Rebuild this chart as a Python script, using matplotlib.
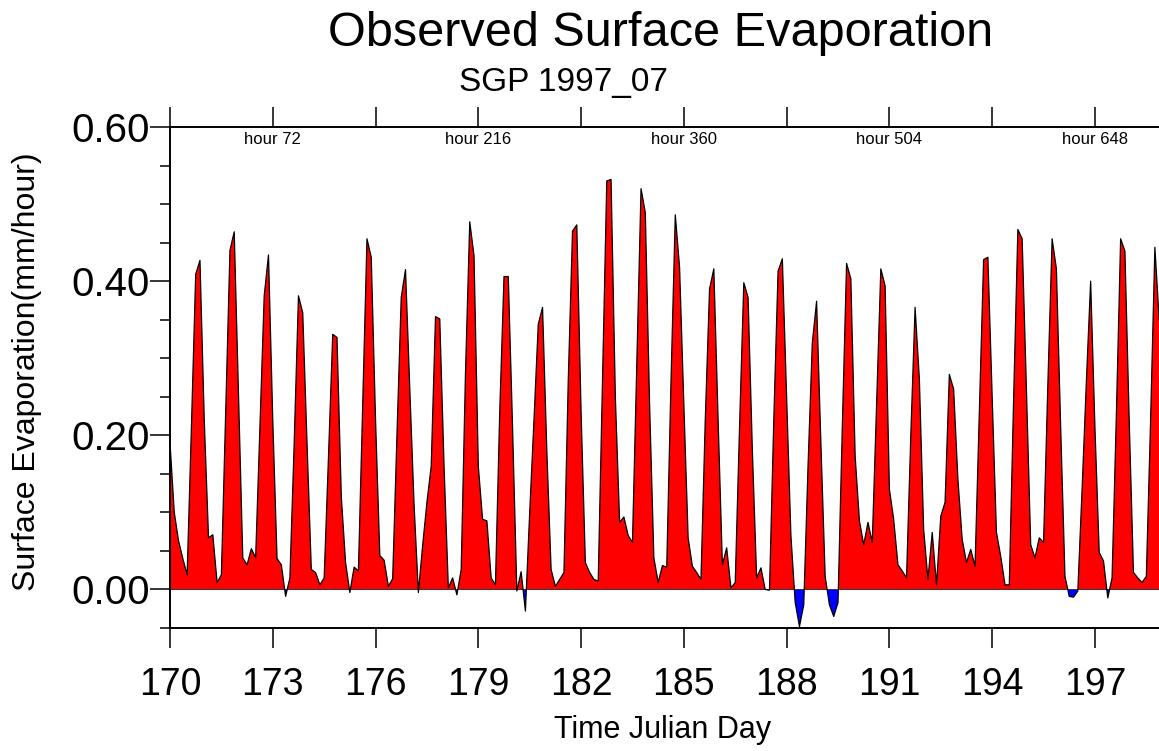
import matplotlib
matplotlib.use("Agg")
import matplotlib.pyplot as plt
from matplotlib.ticker import MultipleLocator
import numpy as np

plt.rcParams['font.family'] = ['Liberation Sans', 'DejaVu Sans']

# 3-hourly surface evaporation (mm/hour), starting julian day 170 00Z
start_day = 170
step_days = 0.125
evap = [
    0.19, 0.10, 0.063, 0.04, 0.019, 0.21, 0.409, 0.427,       # 170
    0.22, 0.067, 0.071, 0.009, 0.019, 0.23, 0.44, 0.464,      # 171
    0.25, 0.041, 0.032, 0.053, 0.041, 0.21, 0.381, 0.434,     # 172
    0.22, 0.04, 0.032, -0.009, 0.015, 0.19, 0.381, 0.359,     # 173
    0.19, 0.026, 0.022, 0.006, 0.015, 0.17, 0.331, 0.327,     # 174
    0.121, 0.035, -0.004, 0.029, 0.024, 0.24, 0.455, 0.431,   # 175
    0.22, 0.044, 0.038, 0.004, 0.014, 0.2, 0.379, 0.415,      # 176
    0.26, 0.11, -0.004, 0.057, 0.113, 0.16, 0.354, 0.351,     # 177
    0.16, 0.002, 0.015, -0.007, 0.026, 0.28, 0.477, 0.433,    # 178
    0.16, 0.091, 0.089, 0.015, 0.006, 0.23, 0.406, 0.406,     # 179
    0.21, -0.002, 0.023, -0.028, 0.1, 0.22, 0.344, 0.366,     # 180
    0.18, 0.026, 0.004, 0.013, 0.022, 0.27, 0.465, 0.473,     # 181
    0.23, 0.035, 0.022, 0.013, 0.011, 0.27, 0.53, 0.532,      # 182
    0.25, 0.087, 0.094, 0.070, 0.061, 0.29, 0.52, 0.489,      # 183
    0.24, 0.041, 0.009, 0.031, 0.029, 0.27, 0.486, 0.418,     # 184
    0.24, 0.067, 0.03, 0.022, 0.013, 0.22, 0.39, 0.416,       # 185
    0.22, 0.032, 0.054, 0.002, 0.009, 0.21, 0.398, 0.379,     # 186
    0.18, 0.015, 0.028, 0.0, -0.001, 0.22, 0.413, 0.429,      # 187
    0.25, 0.07, -0.017, -0.048, -0.02, 0.16, 0.32, 0.374,     # 188
    0.19, 0.017, -0.02, -0.035, -0.017, 0.21, 0.423, 0.403,   # 189
    0.173, 0.089, 0.058, 0.087, 0.061, 0.24, 0.416, 0.394,    # 190
    0.13, 0.091, 0.032, 0.024, 0.015, 0.2, 0.366, 0.273,      # 191
    0.078, 0.013, 0.074, 0.006, 0.095, 0.113, 0.279, 0.26,    # 192
    0.143, 0.065, 0.035, 0.052, 0.030, 0.23, 0.428, 0.431,    # 193
    0.25, 0.074, 0.043, 0.006, 0.006, 0.245, 0.467, 0.455,    # 194
    0.26, 0.058, 0.041, 0.067, 0.061, 0.265, 0.455, 0.416,    # 195
    0.21, 0.017, -0.009, -0.01, -0.002, 0.13, 0.27, 0.40,     # 196
    0.21, 0.048, 0.037, -0.011, 0.015, 0.226, 0.455, 0.439,   # 197
    0.22, 0.022, 0.015, 0.009, 0.017, 0.22, 0.444, 0.35,      # 198
]
day_ticks = [170, 173, 176, 179, 182, 185, 188, 191, 194, 197]
y_ticks = [0.0, 0.2, 0.4, 0.6]
hour_labels = [72, 216, 360, 504, 648]

evap = np.array(evap)
days = start_day + step_days * np.arange(len(evap))

fig = plt.figure(figsize=(11.59, 7.51), dpi=100)
ax = fig.add_axes([170 / 1159, 123 / 751, 989 / 1159, 501 / 751])

ax.fill_between(days, evap, 0, where=evap >= 0, interpolate=True, color='#ff0000', lw=0)
ax.fill_between(days, evap, 0, where=evap <= 0, interpolate=True, color='#0000ff', lw=0)
ax.axhline(0, color='#333333', lw=0.7)
ax.plot(days, evap, color='k', lw=0.9)

ax.set_xlim(170, 198.87)
ax.set_ylim(-0.05, 0.60)

ax.set_xticks(day_ticks)
ax.set_xticklabels([str(d) for d in day_ticks])
ax.set_yticks(y_ticks)
ax.set_yticklabels(['%.2f' % v for v in y_ticks])
ax.yaxis.set_minor_locator(MultipleLocator(0.05))

ax.tick_params(axis='x', which='major', direction='out', length=14.4, width=1.1,
               top=True, labeltop=False, labelsize=27, pad=14)
ax.tick_params(axis='y', which='major', direction='out', length=14.4, width=1.1,
               right=False, labelsize=29, pad=0)
ax.tick_params(axis='y', which='minor', direction='out', length=7.2, width=1.1, right=False)

for s in ['left', 'top', 'bottom']:
    ax.spines[s].set_linewidth(1.4)
ax.spines['right'].set_visible(False)

# hour labels along the top
for h in hour_labels:
    ax.text(start_day + h / 24.0, 0.976, 'hour %d' % h, transform=ax.get_xaxis_transform(),
            ha='center', va='center', fontsize=12)

fig.text(661 / 1159, 1 - 33 / 751, 'Observed Surface Evaporation', ha='center', va='center', fontsize=35)
fig.text(563 / 1159, 1 - 83 / 751, 'SGP 1997_07', ha='center', va='center', fontsize=24)
fig.text(27 / 1159, 1 - 372 / 751, 'Surface Evaporation(mm/hour)', rotation=90,
         ha='center', va='center', fontsize=23)
fig.text(663 / 1159, 1 - 730 / 751, 'Time Julian Day', ha='center', va='center', fontsize=22)

fig.savefig('out.png', dpi=100)
